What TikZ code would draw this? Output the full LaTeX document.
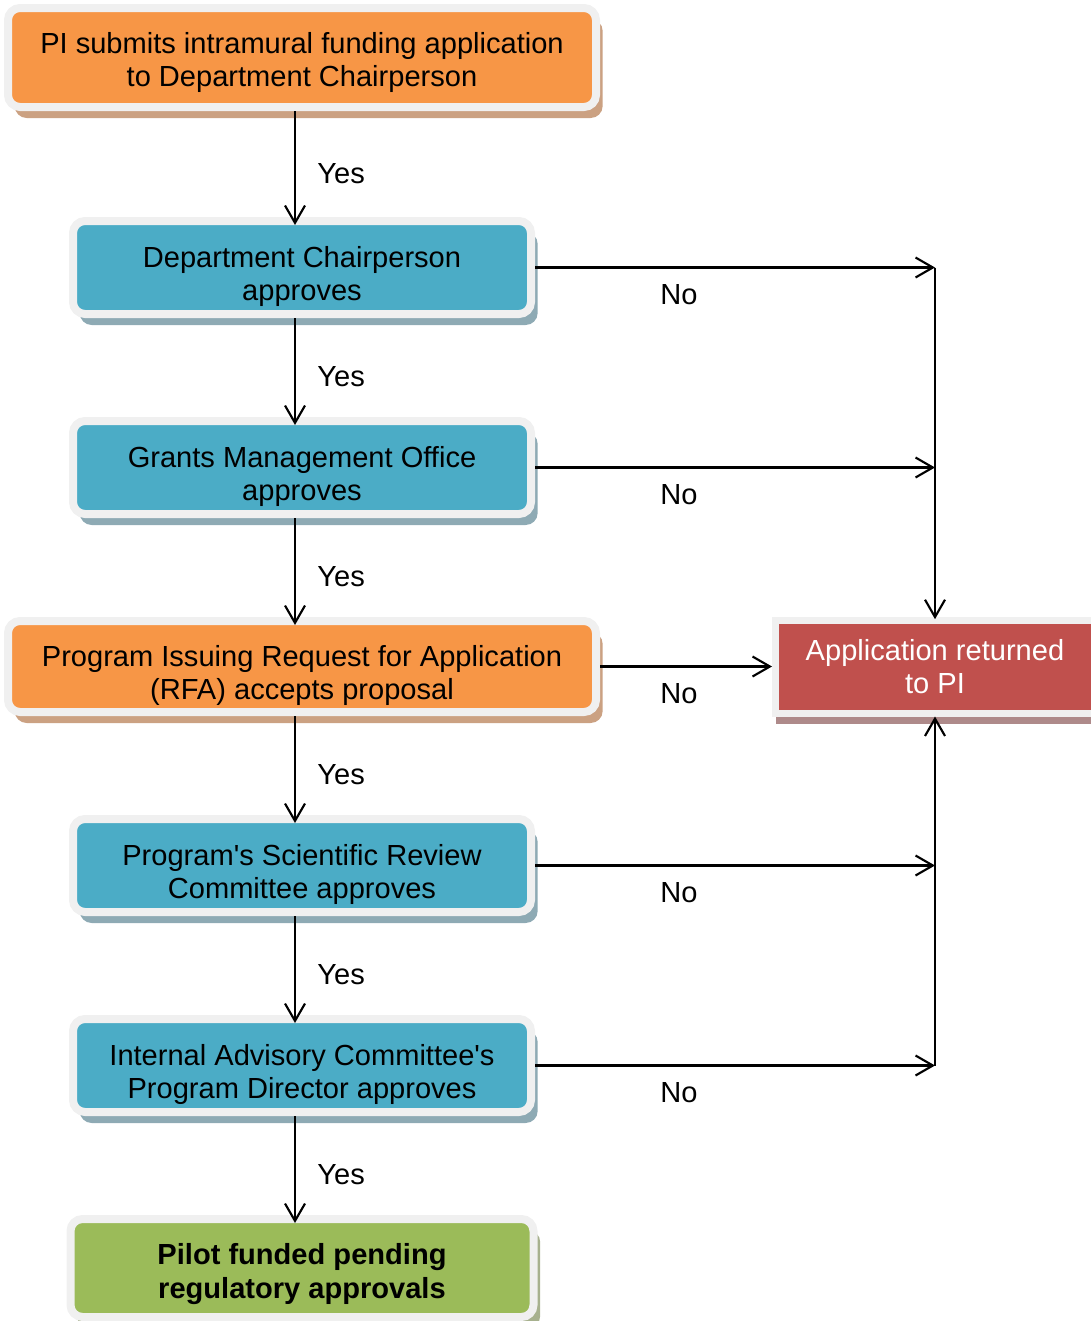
\documentclass[tikz,border=0pt]{standalone}
\usepackage{fontspec}
\setmainfont{Liberation Sans}
\usetikzlibrary{arrows.meta,positioning,shadows}
\definecolor{boxorange}{HTML}{F79646}
\definecolor{boxblue}{HTML}{4BACC6}
\definecolor{boxgreen}{HTML}{9BBB59}
\definecolor{boxred}{HTML}{C0504D}
\definecolor{framegray}{HTML}{F0F0F0}
\definecolor{shadoworange}{HTML}{CBA182}
\definecolor{shadowblue}{HTML}{8EAAB4}
\definecolor{shadowgreen}{HTML}{A7B18E}
\definecolor{shadowred}{HTML}{AE8A8A}
\newcommand\boxfont{\fontsize{21.8}{25}\selectfont}
% pushes the text of a box down a little
\newcommand\drop[1]{\rule{0pt}{#1}}
\tikzset{
  box/.style={draw=framegray,line width=6pt,rounded corners=9pt,align=center,font=\boxfont,text=black,inner ysep=0pt},
  orangebox/.style={box,fill=boxorange,minimum width=441pt,
    drop shadow={shadow xshift=5pt,shadow yshift=-8.25pt,fill=shadoworange,opacity=1}},
  bluebox/.style={box,fill=boxblue,minimum width=343.5pt,minimum height=69.75pt,
    drop shadow={shadow xshift=5pt,shadow yshift=-8.25pt,fill=shadowblue,opacity=1}},
  greenbox/.style={box,fill=boxgreen,minimum width=347.25pt,minimum height=73.5pt,
    drop shadow={shadow xshift=5pt,shadow yshift=-8.25pt,fill=shadowgreen,opacity=1}},
  redbox/.style={draw=framegray,line width=5.25pt,fill=boxred,text=white,align=center,font=\boxfont,
    minimum width=239.25pt,minimum height=69.75pt,
    drop shadow={shadow xshift=0pt,shadow yshift=-7.9pt,fill=shadowred,opacity=1}},
  flow/.style={->,line width=1.6pt},
  yes/.style={midway,right=16pt,yshift=-7pt,inner sep=0,font=\boxfont},
  nolabel/.style={below=12.4pt,inner sep=0,font=\boxfont}
}

\begin{document}
\begin{tikzpicture}[x=0.75pt,y=-0.75pt,>={Straight Barb[length=13pt,width=15pt]}]
\useasboundingbox (0,0) rectangle (1091,1321);
\coordinate (spine) at (295,0);
\coordinate (nocol) at (679,0);

% main column
\node[orangebox,minimum height=74.25pt] (submit) at (302,57.5) {\drop{23.5pt}PI submits intramural funding application\\to Department Chairperson};
\node[bluebox,below=79.5pt of submit] (chair) {\drop{29.5pt}Department Chairperson\\approves};
\node[bluebox,below=74.25pt of chair] (gmo) {\drop{29.5pt}Grants Management Office\\approves};
\node[orangebox,minimum height=68.25pt,below=74.25pt of gmo] (rfa) {\drop{29.5pt}Program Issuing Request for Application\\(RFA) accepts proposal};
\node[bluebox,below=74.25pt of rfa] (review) {\drop{29.5pt}Program\textquotesingle s Scientific Review\\Committee approves};
\node[bluebox,below=74.25pt of review] (advisory) {\drop{29.5pt}Internal Advisory Committee\textquotesingle s\\Program Director approves};
\node[greenbox,below=74.25pt of advisory] (pilot) {\bfseries\drop{25pt}Pilot funded pending\\\bfseries regulatory approvals};
\node[redbox,right=129pt of rfa] (returned) {Application returned\\to PI};

% yes path
\draw[flow,shorten >=-6pt] (submit.south -| spine) -- node[yes]{Yes} (chair.north -| spine);
\draw[flow,shorten >=-6pt] (chair.south -| spine) -- node[yes]{Yes} (gmo.north -| spine);
\draw[flow,shorten >=-6pt] (gmo.south -| spine) -- node[yes]{Yes} (rfa.north -| spine);
\draw[flow,shorten >=-6pt] (rfa.south -| spine) -- node[yes]{Yes} (review.north -| spine);
\draw[flow,shorten >=-6pt] (review.south -| spine) -- node[yes]{Yes} (advisory.north -| spine);
\draw[flow,shorten >=-6pt] (advisory.south -| spine) -- node[yes]{Yes} (pilot.north -| spine);

% no path
\draw[flow] (chair.east) -- (chair.east -| returned.north);
\draw[flow] (gmo.east) -- (gmo.east -| returned.north);
\draw[flow,shorten >=-2pt] (chair.east -| returned.north) -- (returned.north);
\draw[flow] (rfa.east) -- (returned.west);
\draw[flow] (review.east) -- (review.east -| returned.south);
\draw[flow] (advisory.east) -- (advisory.east -| returned.south);
\draw[flow] (advisory.east -| returned.south) -- (returned.south);
\node[nolabel] (no1) at (chair.east -| nocol) {No};
\node[nolabel] (no2) at (gmo.east -| nocol) {No};
\node[nolabel] (no3) at (rfa.east -| nocol) {No};
\node[nolabel] (no4) at (review.east -| nocol) {No};
\node[nolabel] (no5) at (advisory.east -| nocol) {No};
\end{tikzpicture}
\end{document}
